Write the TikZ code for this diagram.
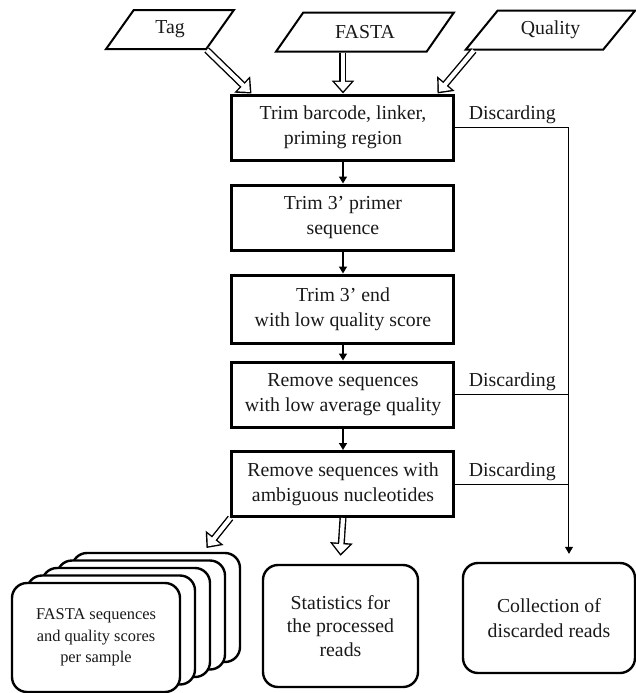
\documentclass[tikz,border=0pt]{standalone}
\usepackage{fontspec}
\setmainfont{Liberation Serif}
\usetikzlibrary{shapes.geometric,arrows.meta}

\begin{document}
\begin{tikzpicture}[x=0.5pt,y=-0.5pt,
  every node/.style={font=\fontsize{9.9}{12.5}\selectfont,text=black!90,align=center},
  infile/.style={draw,line width=1pt,trapezium,trapezium stretches=true,minimum height=19.5pt,inner sep=1pt},
  procbox/.style={draw,line width=1.5pt,minimum width=111pt,minimum height=32.5pt,inner sep=2pt},
  outbox/.style={draw,line width=1.2pt,rounded corners=7.5pt,inner sep=2pt},
  flow/.style={line width=0.7pt,-{Triangle[length=3.5pt,width=4pt]}},
  discard/.style={line width=0.5pt},
  hollow/.style={draw=white,line width=2.1pt,shorten >=1.1pt,-{Triangle[length=4.7pt,width=8pt]},
    preaction={draw=black,line width=3.5pt,shorten >=0pt,-{Triangle[length=6.5pt,width=11pt]}}}]
\useasboundingbox (0,0) rectangle (636,693);

% inputs
\node[infile,trapezium left angle=59,trapezium right angle=121,minimum width=64pt] (tag) at (170,29.5) {Tag};
\node[infile,trapezium left angle=51,trapezium right angle=129,minimum width=89pt] (fasta) at (365,32) {FASTA};
\node[infile,trapezium left angle=49,trapezium right angle=131,minimum width=85pt] (quality) at (550.5,30) {Quality};

% processing steps
\node[procbox] (box1) at (343,127.5) {Trim barcode, linker,\\priming region};
\node[procbox] (box2) at (343,217.5) {Trim 3' primer\\sequence};
\node[procbox,minimum height=34pt] (box3) at (343,309) {Trim 3' end\\with low quality score};
\node[procbox] (box4) at (343,394.5) {Remove sequences\\with low average quality};
\node[procbox] (box5) at (343,484) {Remove sequences with\\ambiguous nucleotides};

% outputs
\foreach \k in {4,3,2,1}
  \node[outbox,fill=white,minimum width=84pt,minimum height=54.5pt] (layer\k) at (96+15*\k,637.5-7.5*\k) {};
\node[outbox,fill=white,minimum width=84pt,minimum height=54.5pt,font=\fontsize{8.2}{10.8}\selectfont] (stack) at (96,637.5) {FASTA sequences\\and quality scores\\per sample};
\node[outbox,minimum width=77.5pt,minimum height=61pt,font=\fontsize{9.9}{11.6}\selectfont] (stats) at (340.5,626) {Statistics for\\the processed\\reads};
\node[outbox,minimum width=86pt,minimum height=55pt] (coll) at (549,618) {Collection of\\discarded reads};

% connectors
\draw[hollow] (tag.bottom right corner) -- ([xshift=10.5pt]box1.north west);
\draw[hollow] (box1.north |- fasta.south) -- (box1.north);
\draw[hollow] ([xshift=5pt]quality.bottom left corner) -- ([xshift=-9pt]box1.north east);
\draw[flow] (box1) -- (box2);
\draw[flow] (box2) -- (box3);
\draw[flow] (box3) -- (box4);
\draw[flow] (box4) -- (box5);
\draw[hollow] (box5.south west) -- ++(-24,30);
\draw[hollow] (box5.south) -- ([yshift=4pt]stats.north);

\coordinate (bus) at (569,127.5);
\draw[discard,-{Triangle[length=3.5pt,width=4pt]},shorten >=4pt] (box1.east) -- node[above,inner sep=1.5pt]{Discarding} (bus) -- (bus |- coll.north);
\draw[discard] (box4.east) -- node[above,inner sep=1.5pt]{Discarding} (box4.east -| bus);
\draw[discard] (box5.east) -- node[above,inner sep=1.5pt]{Discarding} (box5.east -| bus);
\end{tikzpicture}
\end{document}
